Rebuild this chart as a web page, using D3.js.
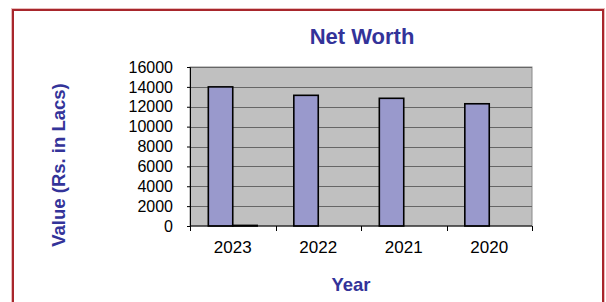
<!DOCTYPE html>
<html>
<head>
<meta charset="utf-8">
<script src="https://cdn.jsdelivr.net/npm/d3@7"></script>
<style>
    body { margin: 0; background: #fff; }
    svg { display: block; }
    text { font-family: "Liberation Sans", Arial, sans-serif; }
</style>
</head>
<body>
<svg id="chart" width="606" height="302"></svg>
<script>
// Chart values
var categories = ['2023', '2022', '2021', '2020'];
var seriesNames = ['Net Worth', 'Other'];
var netWorth = [14000, 13150, 12850, 12300];
// Second series only has a tiny value for 2023, blank for the rest
var other = [60, null, null, null];
var yTicks = [0, 2000, 4000, 6000, 8000, 10000, 12000, 14000, 16000];

var TITLE_COLOR = '#333399',
    BAR_COLOR = '#9999cc',
    PLOT_BG = '#c0c0c0',
    GRID_COLOR = '#666666',
    PLOT = { left: 190, right: 532, top: 67, bottom: 226 };

var svg = d3.select('#chart');

// Frame around the whole chart
svg.append('rect')
    .attr('x', 11.5).attr('y', 8.5)
    .attr('width', 593).attr('height', 320)
    .attr('fill', 'none')
    .attr('stroke', '#e8bcbc')
    .attr('stroke-width', 1);

svg.append('rect')
    .attr('x', 13).attr('y', 10)
    .attr('width', 590).attr('height', 320)
    .attr('fill', 'none')
    .attr('stroke', '#a8262c')
    .attr('stroke-width', 2);

var x = d3.scaleBand()
    .domain(categories)
    .range([PLOT.left, PLOT.right])
    .padding(0);

// Excel style: gap width 150%, no overlap
var xInner = d3.scaleBand()
    .domain(seriesNames)
    .range([0, x.bandwidth()])
    .paddingInner(0)
    .paddingOuter(0.75);

var y = d3.scaleLinear()
    .domain([0, 16000])
    .range([PLOT.bottom, PLOT.top]);

// Plot area background
svg.append('rect')
    .attr('x', PLOT.left)
    .attr('y', PLOT.top)
    .attr('width', PLOT.right - PLOT.left)
    .attr('height', PLOT.bottom - PLOT.top)
    .attr('fill', PLOT_BG)
    .attr('stroke', '#8a8a8a')
    .attr('stroke-width', 1);

// Horizontal gridlines
svg.append('g')
    .selectAll('line')
    .data(yTicks.filter(function(d) { return d > 0; }))
    .enter()
    .append('line')
    .attr('x1', PLOT.left)
    .attr('x2', PLOT.right)
    .attr('y1', function(d) { return Math.round(y(d)) + 0.5; })
    .attr('y2', function(d) { return Math.round(y(d)) + 0.5; })
    .attr('stroke', GRID_COLOR)
    .attr('stroke-width', 1);

// Bars
var rows = categories.map(function(c, i) {
    return { category: c, values: [netWorth[i], other[i]] };
});

var groups = svg.append('g')
    .selectAll('g')
    .data(rows)
    .enter()
    .append('g')
    .attr('transform', function(d) { return 'translate(' + x(d.category) + ',0)'; });

groups.selectAll('rect')
    .data(function(d) {
        return d.values
            .map(function(v, i) { return { name: seriesNames[i], value: v }; })
            .filter(function(e) { return e.value != null; });
    })
    .enter()
    .append('rect')
    .attr('x', function(d) { return xInner(d.name); })
    .attr('y', function(d) { return y(d.value); })
    .attr('width', xInner.bandwidth())
    .attr('height', function(d) { return y(0) - y(d.value); })
    .attr('fill', BAR_COLOR)
    .attr('stroke', '#000')
    .attr('stroke-width', 1.6);

// Y axis
var yAxis = svg.append('g')
    .attr('transform', 'translate(' + PLOT.left + ',0)')
    .call(d3.axisLeft(y)
        .tickValues(yTicks)
        .tickFormat(d3.format('d'))
        .tickSize(3)
        .tickPadding(14));

yAxis.select('.domain').attr('stroke', '#000');
yAxis.selectAll('.tick line').attr('stroke', '#000');
yAxis.selectAll('text')
    .attr('font-size', 16)
    .attr('fill', '#000')
    .style('font-family', '"Liberation Sans", Arial, sans-serif');

// X axis, ticks sit between categories
var xAxisG = svg.append('g')
    .attr('transform', 'translate(0,' + PLOT.bottom + ')');

xAxisG.append('line')
    .attr('x1', PLOT.left).attr('x2', PLOT.right)
    .attr('y1', 0).attr('y2', 0)
    .attr('stroke', '#000')
    .attr('stroke-width', 1);

var boundaries = categories.map(function(c) { return x(c); }).concat([x.range()[1]]);
xAxisG.selectAll('line.tick')
    .data(boundaries)
    .enter()
    .append('line')
    .classed('tick', true)
    .attr('x1', function(d) { return Math.round(d) + 0.5; })
    .attr('x2', function(d) { return Math.round(d) + 0.5; })
    .attr('y1', 0)
    .attr('y2', 5)
    .attr('stroke', '#000');

xAxisG.selectAll('text')
    .data(categories)
    .enter()
    .append('text')
    .attr('x', function(d) { return x(d) + x.bandwidth() / 2; })
    .attr('y', 27)
    .attr('text-anchor', 'middle')
    .attr('font-size', 17)
    .attr('fill', '#000')
    .text(function(d) { return d; });

// Titles
svg.append('text')
    .attr('x', 362)
    .attr('y', 43.5)
    .attr('text-anchor', 'middle')
    .attr('font-size', 22)
    .attr('font-weight', 'bold')
    .attr('fill', TITLE_COLOR)
    .text('Net Worth');

svg.append('text')
    .attr('x', 351)
    .attr('y', 291)
    .attr('text-anchor', 'middle')
    .attr('font-size', 18.5)
    .attr('font-weight', 'bold')
    .attr('fill', TITLE_COLOR)
    .text('Year');

svg.append('text')
    .attr('transform', 'translate(65,165) rotate(-90)')
    .attr('text-anchor', 'middle')
    .attr('font-size', 18.5)
    .attr('font-weight', 'bold')
    .attr('fill', TITLE_COLOR)
    .text('Value (Rs. in Lacs)');
</script>
</body>
</html>
